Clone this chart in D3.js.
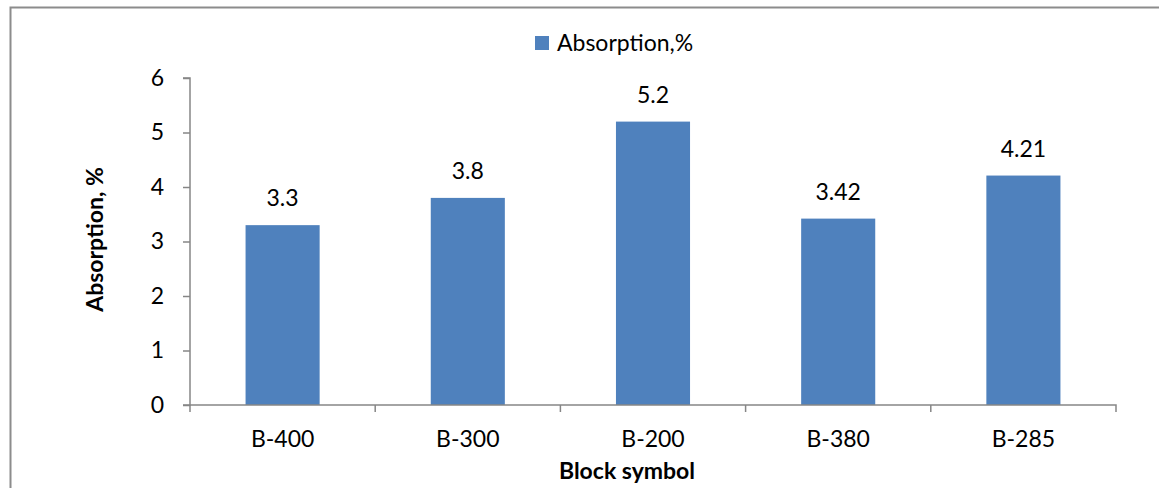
<!DOCTYPE html>
<html><head><meta charset="utf-8">
<script src="https://cdn.jsdelivr.net/npm/d3@7"></script>
<style>body{margin:0;background:#fff}svg{display:block}text{font-family:Lato,"Liberation Sans",sans-serif}</style>
</head><body>
<script>
const categories = ["B-400","B-300","B-200","B-380","B-285"];
const values = [3.3, 3.8, 5.2, 3.42, 4.21];
const valueLabels = ["3.3","3.8","5.2","3.42","4.21"];
const yTicks = [0,1,2,3,4,5,6];
const seriesName = "Absorption,%";

const W = 1159, H = 488;
const svg = d3.select("body").append("svg").attr("width", W).attr("height", H);
svg.append("path").attr("d", `M10.5,${H} V7.5 H${W}`).attr("fill","none").attr("stroke","#8c8c8c").attr("stroke-width",2);

const x0 = 190, x1 = 1116, yTop = 78, yBot = 405;
const x = d3.scaleBand().domain(categories).range([x0, x1]).paddingInner(0.6).paddingOuter(0.3);
const y = d3.scaleLinear().domain([0, 6]).range([yBot, yTop]);
const axisColor = "#868686";
const fs = 23;

svg.selectAll("rect.bar").data(values).join("rect").attr("class","bar")
  .attr("x",(d,i)=>x(categories[i])).attr("width",x.bandwidth())
  .attr("y",d=>y(d)).attr("height",d=>yBot-y(d)).attr("fill","#4f81bd");

const gy = svg.append("g").attr("transform",`translate(${x0},0)`)
  .call(d3.axisLeft(y).tickValues(yTicks).tickSize(7).tickPadding(19).tickFormat(d3.format("d")));
gy.select(".domain").attr("stroke",axisColor).attr("stroke-width",1.5).attr("d",`M-7,${yTop}H0V${yBot}H-7`);
gy.selectAll(".tick line").attr("stroke",axisColor).attr("stroke-width",1.5);
gy.selectAll("text").attr("font-size",fs).attr("fill","#000").attr("font-family","Lato");

const gx = svg.append("g").attr("transform",`translate(0,${yBot})`)
  .call(d3.axisBottom(x).tickSize(0).tickPadding(26));
gx.select(".domain").attr("stroke",axisColor).attr("stroke-width",1.5).attr("d",`M${x0},0H${x1}V7`);
gx.selectAll("text").attr("font-size",fs).attr("fill","#000").attr("font-family","Lato");
const step = x.step();
const bounds = d3.range(categories.length).map(i => x0 + i*step);
svg.selectAll("line.xt").data(bounds).join("line").attr("class","xt")
  .attr("x1",d=>d).attr("x2",d=>d).attr("y1",yBot).attr("y2",yBot+7)
  .attr("stroke",axisColor).attr("stroke-width",1.5);

svg.selectAll("text.vl").data(values).join("text").attr("class","vl")
  .attr("x",(d,i)=>x(categories[i])+x.bandwidth()/2).attr("y",d=>y(d)-19)
  .attr("text-anchor","middle").attr("font-size",fs).text((d,i)=>valueLabels[i]);

svg.append("text").attr("transform",`translate(103,${(yTop+yBot)/2 - 2}) rotate(-90)`)
  .attr("text-anchor","middle").attr("font-size",fs).attr("font-weight","bold").text("Absorption, %");
svg.append("text").attr("x",627).attr("y",479).attr("text-anchor","middle")
  .attr("font-size",fs).attr("font-weight","bold").text("Block symbol");

svg.append("rect").attr("x",535).attr("y",36).attr("width",14).attr("height",14).attr("fill","#4f81bd");
svg.append("text").attr("x",557).attr("y",51).attr("font-size",fs).text(seriesName);
</script>
</body></html>
